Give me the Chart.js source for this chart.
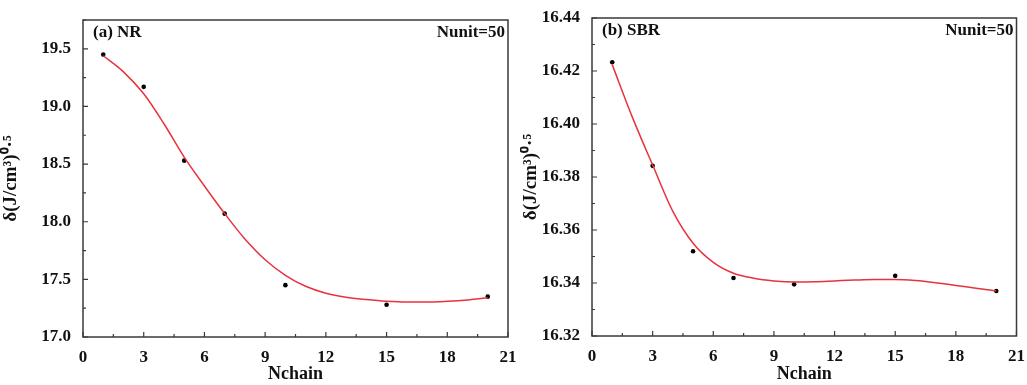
<!DOCTYPE html>
<html>
<head>
<meta charset="utf-8">
<script src="https://cdn.jsdelivr.net/npm/chart.js@4"></script>
<style>
  body { margin: 0; background: #fff; }
  .box { position: absolute; top: 0; height: 385px; }
</style>
</head>
<body>
<div class="box" style="left:0;width:520px"><canvas id="nrCanvas"></canvas></div>
<div class="box" style="left:520px;width:507px"><canvas id="sbrCanvas"></canvas></div>
<script>
// measured points (Nchain vs delta)
const nchain = [1, 3, 5, 7, 10, 15, 20];
const nrPoints = [19.45, 19.17, 18.53, 18.07, 17.45, 17.28, 17.35];
const sbrPoints = [16.4233, 16.3842, 16.352, 16.3419, 16.3395, 16.3427, 16.337];

// fitted curve
const fitX = [1, 2, 3, 4, 5, 6, 7, 8, 9, 10, 11, 12, 13, 14, 15, 16, 17, 18, 19, 20];
const nrFit = [19.44, 19.30, 19.11, 18.85, 18.56, 18.31, 18.07, 17.85, 17.67, 17.535, 17.44, 17.38, 17.345, 17.325, 17.31, 17.303, 17.303, 17.31, 17.322, 17.34];
const sbrFit = [16.4224, 16.4025, 16.3845, 16.367, 16.355, 16.3478, 16.3437, 16.3418, 16.3408, 16.3404, 16.3405, 16.3408, 16.3411, 16.3413, 16.3413, 16.3409, 16.3401, 16.3391, 16.338, 16.337];

const serif = "'Liberation Serif', 'Times New Roman', serif";

function zip(xs, ys) {
    return xs.map((x, i) => ({ x: x, y: ys[i] }));
}

// frame, inward ticks and corner labels
const framePlugin = {
    id: "frame",
    afterDraw(chart, args, opts) {
        const ctx = chart.ctx;
        const a = chart.chartArea;
        const xs = chart.scales.x;
        const ys = chart.scales.y;
        ctx.save();
        ctx.strokeStyle = "#3a3a3a";
        ctx.lineWidth = 1.5;
        ctx.strokeRect(a.left, a.top, a.right - a.left, a.bottom - a.top);

        ctx.lineWidth = 1.2;
        ctx.beginPath();
        for (let v = 0; v <= 21.001; v += 1.5) {
            const px = xs.getPixelForValue(v);
            const len = Math.abs(v / 3 - Math.round(v / 3)) < 0.01 ? 5 : 3;
            ctx.moveTo(px, a.bottom);
            ctx.lineTo(px, a.bottom - len);
        }
        const n = Math.round((opts.yMax - opts.yMin) / opts.yMinor);
        for (let i = 0; i <= n; i++) {
            const v = opts.yMin + i * opts.yMinor;
            const py = ys.getPixelForValue(v);
            const len = i % 2 === 0 ? 5 : 3;
            ctx.moveTo(a.left, py);
            ctx.lineTo(a.left + len, py);
        }
        ctx.stroke();

        ctx.fillStyle = "#111";
        ctx.font = "bold 17px " + serif;
        ctx.textBaseline = "middle";
        ctx.textAlign = "left";
        ctx.fillText(opts.label, a.left + 10, a.top + 13);
        ctx.textAlign = "right";
        ctx.fillText("Nunit=50", a.right - 3, a.top + 13);
        ctx.restore();
    }
};

function makeChart(id, pts, fit, cfg) {
    const ctx = document.getElementById(id).getContext("2d");
    return new Chart(ctx, {
        type: "scatter",
        data: {
            datasets: [
                {
                    data: zip(fitX, fit),
                    showLine: true,
                    borderColor: "#e8323c",
                    borderWidth: 1.5,
                    pointRadius: 0,
                    cubicInterpolationMode: "monotone",
                    fill: false
                },
                {
                    data: zip(nchain, pts),
                    pointRadius: 2.3,
                    pointBackgroundColor: "#000",
                    pointBorderWidth: 0
                }
            ]
        },
        options: {
            responsive: true,
            maintainAspectRatio: false,
            animation: false,
            layout: { padding: { top: cfg.top, right: cfg.right, left: 0, bottom: 0 } },
            plugins: {
                legend: { display: false },
                tooltip: { enabled: false },
                frame: { label: cfg.label, yMin: cfg.yMin, yMax: cfg.yTop, yMinor: cfg.yMinor }
            },
            scales: {
                x: {
                    type: "linear",
                    min: 0,
                    max: 21,
                    grid: { display: false },
                    border: { display: false },
                    ticks: {
                        stepSize: 3,
                        color: "#111",
                        padding: 2,
                        font: { family: serif, size: 17, weight: "bold" }
                    },
                    title: {
                        display: true,
                        text: "Nchain",
                        color: "#111",
                        padding: { top: 0, bottom: 0 },
                        font: { family: serif, size: 18, weight: "bold" }
                    },
                    afterFit(scale) { scale.height = cfg.bottom; }
                },
                y: {
                    min: cfg.yMin,
                    max: cfg.yTop,
                    grid: { display: false },
                    border: { display: false },
                    afterBuildTicks(scale) {
                        scale.ticks = scale.ticks.filter(t => {
                            const k = (t.value - cfg.yMin) / cfg.yStep;
                            return Math.abs(k - Math.round(k)) < 1e-6;
                        });
                    },
                    ticks: {
                        stepSize: cfg.yStep,
                        color: "#111",
                        padding: 4,
                        font: { family: serif, size: 17, weight: "bold" },
                        callback: v => v.toFixed(cfg.digits)
                    },
                    title: {
                        display: true,
                        text: "δ(J/cm³)⁰·⁵",
                        color: "#111",
                        padding: { top: 0, bottom: 3 },
                        font: { family: serif, size: 19, weight: "bold" }
                    },
                    afterFit(scale) { scale.width = cfg.yWidth; }
                }
            }
        },
        plugins: [framePlugin]
    });
}

makeChart("nrCanvas", nrPoints, nrFit, {
    label: "(a) NR", yMin: 17.0, yTop: 19.75, yStep: 0.5, yMinor: 0.25, digits: 1,
    top: 20, right: 12, bottom: 48, yWidth: 83
});
makeChart("sbrCanvas", sbrPoints, sbrFit, {
    label: "(b) SBR", yMin: 16.32, yTop: 16.44, yStep: 0.02, yMinor: 0.01, digits: 2,
    top: 18, right: 7, bottom: 49, yWidth: 72
});
</script>
</body>
</html>
